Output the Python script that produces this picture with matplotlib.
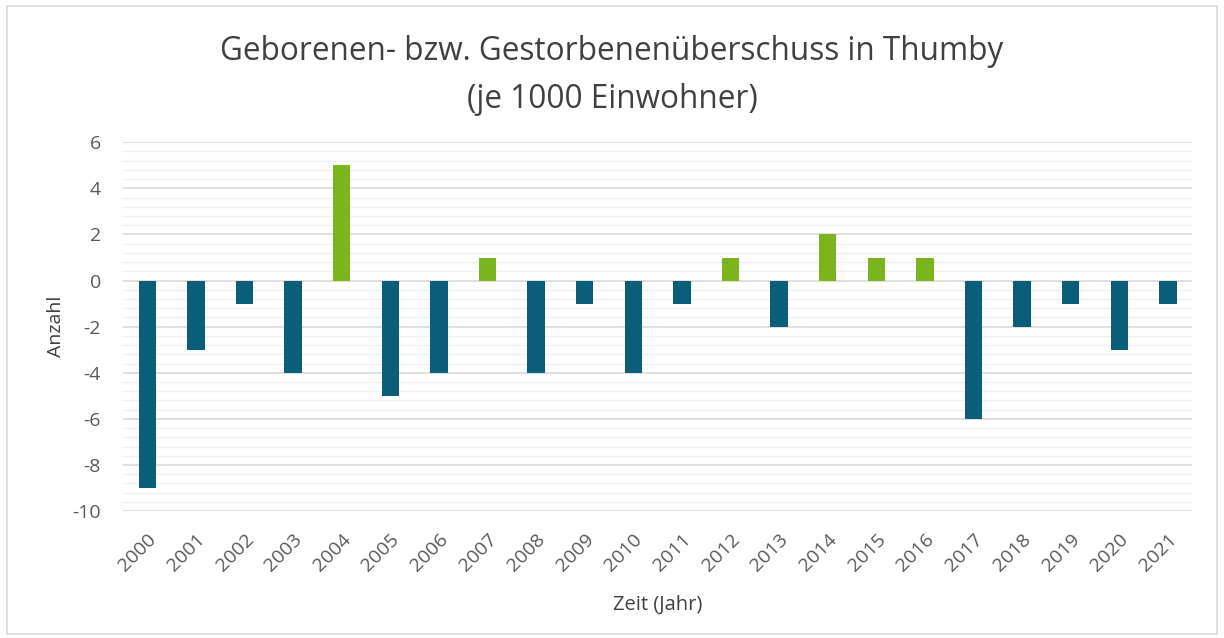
import numpy as np
import matplotlib.pyplot as plt
from matplotlib.patches import Rectangle

plt.rcParams['font.family'] = ['Open Sans', 'DejaVu Sans']
plt.rcParams['axes.unicode_minus'] = False

jahre = [str(j) for j in range(2000, 2022)]
werte = [-9, -3, -1, -4, 5, -5, -4, 1, -4, -1, -4, -1, 1, -2, 2, 1, 1, -6, -2, -1, -3, -1]

blau = '#0b5e7a'
gruen = '#7ab51d'
farben = [gruen if w > 0 else blau for w in werte]

fig = plt.figure(figsize=(12.24, 6.38), dpi=100)
ax = fig.add_axes([0.1005, 0.199, 0.8735, 0.578])

x = np.arange(len(jahre))
ax.bar(x, werte, width=0.36, color=farben, zorder=3)

ax.set_xlim(-0.5, len(jahre) - 0.5)
ax.set_ylim(-10, 6)
ax.set_yticks(np.arange(-10, 7, 2))
ax.set_yticks(np.arange(-10, 6.01, 0.4), minor=True)
ax.grid(axis='y', which='major', color='#d9d9d9', linewidth=1.2, zorder=0)
ax.grid(axis='y', which='minor', color='#f0f0f0', linewidth=1.0, zorder=0)
ax.set_xticks(x)
ax.set_xticklabels(jahre, rotation=45, ha='right', rotation_mode='anchor')
ax.tick_params(axis='both', which='both', length=0, labelsize=14, labelcolor='#595959')
ax.tick_params(axis='x', pad=14)
ax.tick_params(axis='y', pad=16)
for s in ax.spines.values():
    s.set_visible(False)

ax.set_ylabel('Anzahl', fontsize=14, color='#404040', labelpad=5)
ax.set_xlabel('Zeit (Jahr)', fontsize=14.5, color='#404040', labelpad=14)
fig.text(0.5, 0.882, 'Geborenen- bzw. Gestorbenenüberschuss in Thumby\n(je 1000 Einwohner)',
         ha='center', va='center', fontsize=22.7, color='#404040', linespacing=1.6)

fig.patches.append(Rectangle((0.006, 0.006), 0.988, 0.984, transform=fig.transFigure,
                             fill=False, edgecolor='#d9d9d9', linewidth=1.2))

fig.savefig('out.png', dpi=100)
